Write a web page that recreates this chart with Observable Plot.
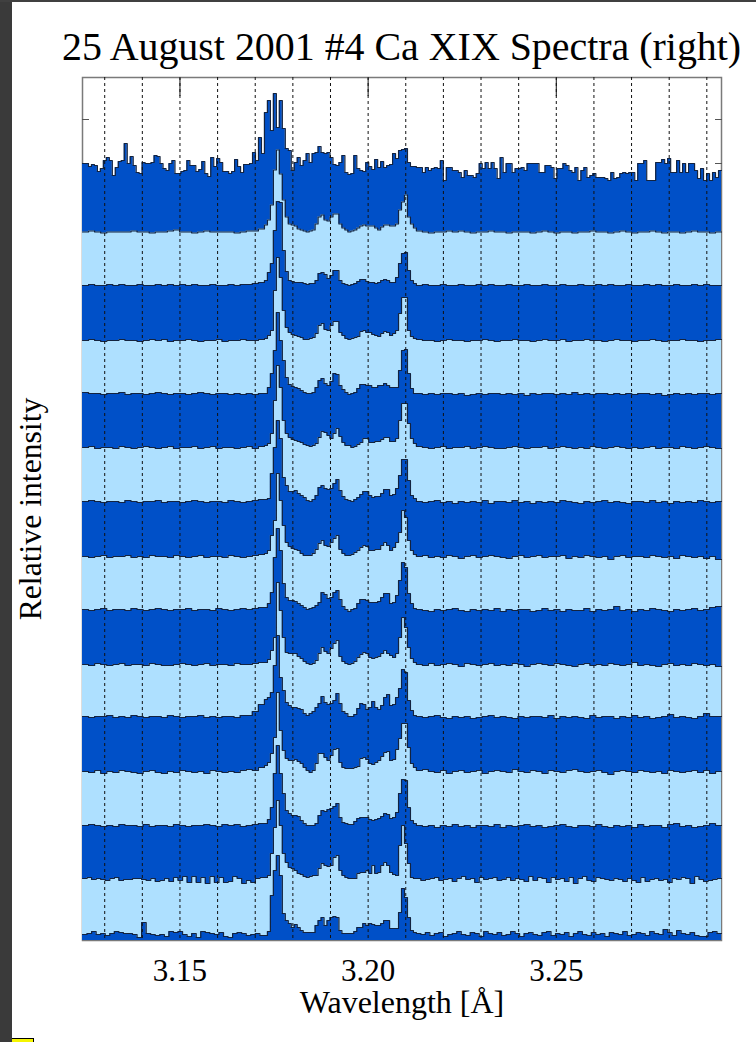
<!DOCTYPE html>
<html>
<head>
<meta charset="utf-8">
<script src="https://cdn.jsdelivr.net/npm/d3@7"></script>
<script src="https://cdn.jsdelivr.net/npm/@observablehq/plot@0.6"></script>
<style>
  html, body { margin: 0; padding: 0; background: #fff; width: 756px; height: 1042px; overflow: hidden; }
  #title { height: 70px; font: 39.9px "Liberation Serif", serif; color: #000; position: relative; }
  #title span { position: absolute; left: 62px; top: 25px; line-height: 44px; white-space: nowrap; }
  #strip { position: absolute; left: 0; top: 0; width: 12px; height: 1042px; background: #3a3a3a; }
  #bar { position: absolute; left: 0; top: 0; width: 756px; height: 2px; background: #404040; }
  #mark { position: absolute; left: 12px; top: 1038px; width: 22px; height: 4px; background: #f5f500; border-top: 1px solid #000; border-right: 1px solid #000; box-sizing: border-box; }
  svg { display: block; }
</style>
</head>
<body>
<div id="title"><span>25 August 2001 #4 Ca XIX Spectra (right)</span></div>
<div id="chart"></div>
<div id="strip"></div><div id="bar"></div><div id="mark"></div>
<script>
const xLabel = "Wavelength [Å]";
const yLabel = "Relative intensity";
const labelledTicks = [3.15, 3.20, 3.25];
const gridWave = [3.13,3.14,3.15,3.16,3.17,3.18,3.19,3.20,3.21,3.22,3.23,3.24,3.25,3.26,3.27,3.28,3.29];
const yTicks = [821, 777];
const waveEdges = [3.1241, 3.17245, 3.21283, 3.2939];
// continuum level of each spectrum, bottom to top
const levels = [6, 61, 114, 169, 223, 276, 330, 384, 438, 493, 546, 600, 655, 708.5, 770];
const colors = ["#0050c8", "#aee0ff"];

// each spectrum: [left wing, lines region, right wing], intensity above its continuum
const s01 = [
 [0,1,3,0,1,-1,1,3,2,1,1,0,-3,12,1,0,-1,0,-2,3,2,3,0,-2,1,-3,3,2,1,0,2,-2,-3,1,2,1,-1,0,1,-1],
 [-1,3,39,64,79,59,21,14,11,7,10,7,4,2,2,2,2,9,14,17,9,14,17,18,17,4,1,1,1,1,3,7,7,11,9,11,10,9,9,11,14,14,6,6,6,22,46,37,17,4,2],
 [1,0,2,-1,1,2,-2,0,1,3,0,-1,2,1,-2,3,1,0,2,-1,0,3,1,-2,1,2,0,-1,2,3,-1,1,0,2,-2,1,3,0,-1,2,0,1,-2,2,1,0,3,-1,0,2,1,-1,3,1,0,5,2,-1,4,1,0,2,-1,-2,-2,2,3,1]];
const s02 = [
 [1,2,0,1,0,-1,1,2,-1,0,0,1,1,0,-1,1,-2,-1,1,-2,2,-1,3,-3,3,-3,2,-4,3,-3,2,-3,-2,3,1,-4,-1,-3,1,2],
 [2,4,26,52,79,54,26,17,12,11,9,6,5,3,2,3,4,4,11,16,14,13,14,22,24,9,4,2,1,1,1,6,7,7,9,6,14,6,7,14,17,14,7,5,4,34,54,36,16,2,1],
 [1,-1,0,1,2,-1,0,1,-2,1,3,0,1,-3,2,0,1,2,-1,0,2,-1,1,0,-2,3,-1,2,1,-3,2,0,1,-2,2,-4,1,3,-1,-2,2,1,0,-1,1,0,-2,1,-1,-3,2,-2,0,1,-1,0,-3,1,0,2,1,-4,3,0,-2,-1,0,1]];
const s03 = [
 [1,2,1,0,1,0,2,1,1,0,2,0,1,1,0,2,1,0,1,1,2,1,0,2,1,2,0,1,2,3],
 [3,7,19,53,81,53,33,16,13,11,11,10,6,3,1,1,1,3,11,16,15,17,18,20,23,9,4,3,2,2,5,8,9,9,9,7,6,7,8,10,13,12,8,9,14,33,47,46,19,6,3],
 [1,0,1,-1,1,0,2,0,1,-1,1,1,0,2,-1,1,0,1,2,0,1,-1,0,1,2,0,-1,1,1,0,2,0,-1,1,0,1,-1,2,0,1,1,-1,2,3,0,1,-1,0,1,3,1]];
const s04 = [
 [0,-1,1,-2,0,-1,1,0,-1,-2,0,1,-1,-2,0,-1,1,0,-1,0,-2,1,0,-1,0,-1,1,2,1,4],
 [6,9,18,34,79,41,21,13,11,11,12,10,8,4,1,-1,1,8,18,18,14,11,16,22,23,9,4,3,3,3,4,5,13,14,12,8,7,9,11,15,19,20,11,12,22,33,48,48,24,8,4],
 [1,2,0,-1,1,-2,0,1,-1,0,1,-2,0,1,0,-1,2,0,-1,1,0,-2,1,0,-1,1,2,0,-1,0,1,-1,-3,0,1,0,-1,1,0,-1,0,-2,1,0,-1,0,1,-1,1,-2,0]];
const s05 = [
 [1,0,1,1,2,0,1,0,2,1,0,1,1,0,2,1,0,1,1,2,0,1,0,1,1,0,2,2,6,13],
 [18,20,25,52,82,40,27,15,12,10,10,9,8,4,2,4,6,10,14,21,15,13,14,17,24,14,6,4,1,1,3,9,14,13,8,10,16,10,8,12,20,23,12,13,20,29,48,45,17,7,2],
 [1,0,1,2,0,-1,1,0,1,-1,0,1,2,0,1,0,-1,1,0,1,1,0,2,-1,1,0,1,0,-1,2,0,1,1,-1,1,0,2,0,1,-1,0,1,3,0,1,0,-1,1,4,1,1]];
const s06 = [
 [0,-1,1,0,-1,0,1,-1,0,0,-1,1,0,-1,-1,0,1,0,-1,0,1,-1,0,0,-1,1,0,0,1,2],
 [2,5,14,27,82,54,27,12,11,11,11,8,6,3,1,0,1,4,11,17,13,11,16,21,24,8,3,1,0,1,3,7,10,12,11,7,6,7,8,11,14,11,9,7,11,27,47,37,17,6,2],
 [0,-1,1,-1,0,1,0,-2,1,0,-1,0,1,-1,0,-1,1,0,-2,0,1,0,-1,1,0,-1,-2,0,1,-1,0,-1,1,0,-1,0,2,-1,0,-1,-2,0,1,-1,0,-1,1,0,-1,0,-2]];
const s07 = [
 [1,0,1,2,0,1,1,0,2,1,0,1,2,1,0,1,1,2,0,1,1,0,2,1,0,1,2,1,2,3],
 [3,7,18,53,82,60,27,13,10,10,9,7,5,3,1,2,3,5,8,18,16,12,13,18,20,11,4,1,-1,1,2,7,11,11,10,8,8,8,9,13,17,17,7,8,15,30,48,43,17,7,2],
 [1,0,-1,1,0,1,2,0,-1,1,0,1,0,2,-1,1,0,1,1,-1,0,2,0,1,-1,1,0,0,2,-1,1,0,1,4,0,1,-1,1,0,2,1,0,-1,1,0,1,2,0,1,3,4]];
const s08 = [
 [0,-1,0,1,-1,0,0,1,-1,0,-1,1,0,0,-1,1,0,-1,0,1,-1,0,0,-1,1,0,-1,0,1,2],
 [3,6,21,36,83,56,31,14,10,8,7,6,3,1,1,1,3,7,13,16,11,10,14,18,21,7,3,1,1,2,4,6,9,11,10,6,6,7,7,11,14,11,6,9,14,24,46,39,16,6,2],
 [0,1,-1,0,-1,1,0,-2,0,1,-1,0,1,0,-1,-2,0,1,-1,0,1,-1,0,0,1,-2,0,-1,1,0,-1,0,-3,0,1,-1,0,0,-1,1,0,-1,0,-2,1,0,-1,0,-2,0,-3]];
const s09 = [
 [1,2,1,0,1,1,0,2,1,0,1,1,2,0,1,1,0,1,2,1,0,1,1,0,2,1,0,1,2,3],
 [3,4,29,55,82,64,25,17,11,11,12,9,7,5,2,1,3,7,15,17,14,13,14,19,23,12,6,3,2,1,3,5,8,11,11,7,5,6,6,9,13,13,7,8,14,27,43,43,22,7,4],
 [1,0,1,2,0,1,-1,1,0,1,0,2,-1,1,1,0,2,0,1,-1,1,0,1,0,2,1,0,-1,1,0,1,2,0,1,0,-1,1,1,0,2,0,1,-1,1,0,1,0,2,1,0,1]];
const s10 = [
 [0,1,-1,0,0,-1,1,0,-1,0,1,0,-1,0,1,-1,0,0,1,-1,0,1,-1,0,0,-1,0,1,-1,1],
 [2,4,14,47,82,60,27,14,10,8,7,6,5,3,2,1,2,4,10,16,15,12,9,14,19,11,5,2,2,0,1,3,5,9,9,5,5,6,6,8,10,10,6,6,9,27,44,44,24,9,4],
 [1,0,-1,0,1,-1,0,0,1,-1,0,1,0,-1,-1,0,1,0,-1,0,0,1,-1,0,1,0,-1,0,-1,1,0,-1,0,1,0,-1,0,-1,0,1,-1,0,0,-1,1,0,-1,0,1,0,-1]];
const s11 = [
 [2,1,1,0,1,1,2,0,1,1,0,1,2,1,0,1,1,0,1,2,1,0,1,1,0,1,0,1,0,1],
 [1,7,21,44,82,54,34,17,10,8,7,6,4,2,1,1,2,7,14,16,11,9,13,21,20,9,5,2,0,1,2,6,10,10,9,9,7,7,9,9,11,9,7,7,7,24,44,45,21,6,1],
 [1,0,1,0,1,1,0,1,-1,0,1,0,1,1,0,1,0,1,-1,1,0,1,1,0,1,0,2,0,1,0,1,1,0,1,0,1,0,1,1,0,1,-1,0,1,0,1,0,1,1,0,1]];
const s12 = [
 [0,1,0,-1,0,0,1,0,0,-1,0,1,0,1,-1,0,0,1,0,-1,0,0,1,-1,0,0,1,0,0,1],
 [2,5,10,50,83,63,30,13,8,6,5,4,3,1,1,2,3,7,15,17,11,10,15,19,19,8,5,2,1,2,3,4,9,10,8,8,6,5,4,7,9,8,5,7,10,27,43,43,10,4,2],
 [1,0,0,-1,0,1,0,0,-1,0,0,1,0,-1,0,0,1,0,0,-1,0,1,0,0,1,-1,0,0,1,0,0,-1,0,1,0,0,-1,0,0,1,0,-1,0,0,1,0,0,-1,0,0,1]];
const s13 = [
 [0,1,0,0,1,0,1,0,0,1,0,0,1,0,1,0,1,0,1,0,0,1,0,0,1,0,1,1,2,3],
 [5,13,22,55,84,83,35,14,5,4,3,3,3,2,1,2,2,5,12,13,11,7,10,15,15,5,2,1,0,1,2,4,6,6,4,3,3,2,3,5,6,5,3,3,8,22,32,33,15,5,2],
 [0,1,0,0,1,0,0,1,0,0,1,0,1,0,0,1,0,0,1,0,0,1,0,0,1,0,0,1,0,0,1,0,1,0,0,1,0,0,1,0,1,0,0,1,0,0,1,0,1,0,0]];
const s14 = [
 [0,1,0,-1,0,0,0,0,1,0,0,-1,0,0,1,2,0,0,-1,0,1,0,0,0,0,-1,0,1,1,3],
 [7,12,27,62,82,58,32,15,8,7,6,3,2,1,0,1,2,8,15,17,12,11,15,18,18,8,4,2,0,1,2,4,6,7,6,6,6,4,2,5,7,7,6,6,8,22,30,37,15,8,4],
 [1,0,-1,0,0,1,0,1,0,-1,0,0,1,0,0,-1,0,0,0,-1,0,1,0,-1,0,0,-1,0,0,1,0,0,-1,0,1,0,-1,0,0,1,0,-1,0,0,-1,0,1,0,0,-1,0]];
const s15 = [
 [7,7,4,6,5,-1,2,10,13,10,-5,3,9,10,27,7,14,5,-2,-3,8,7,7,8,15,14,7,2,0,7,10,-3,-3,-1,0,10,5,5,-1,1,9,-3,-6,13,4,12,8,-1,-1,-3,-1,11,4,-2,6,6,7,18,10,33,17],
 [58,70,40,77,43,70,42,22,20,0,8,13,5,10,17,8,17,18,24,18,17,18,13,6,5,8,15,-2,-4,-3,15,2,0,-1,8,4,1,11,3,9,3,5,6,17,12,20,21,22,8,4,4],
 [3,3,-2,3,0,2,3,2,10,-10,3,3,0,0,-2,-7,0,-5,-5,-7,-3,7,2,8,2,8,2,-8,13,-2,7,7,-2,2,2,3,0,7,7,7,7,-2,-2,5,5,3,-8,2,2,7,5,0,-2,3,-10,0,3,-7,-5,-3,-7,-7,-7,-8,-10,-2,-8,-7,-3,-2,-3,-2,-2,-10,7,7,10,-10,-10,-10,8,8,11,7,12,-2,-2,10,-2,7,-2,7,7,0,-8,2,-10,-3,-10,-2,-7,0]];
const spectra = [s01,s02,s03,s04,s05,s06,s07,s08,s09,s10,s11,s12,s13,s14,s15];

// one row per histogram bin, binned evenly within each wavelength region
const rows = spectra.map((regions, k) => {
  const out = [];
  regions.forEach((vals, r) => {
    const a = waveEdges[r], b = waveEdges[r + 1];
    vals.forEach((v, i) => out.push({wave: a + (b - a) * i / vals.length, y: levels[k] + v}));
  });
  out.push({wave: waveEdges[3], y: out[out.length - 1].y});
  return out;
});

const marks = [
  Plot.frame({stroke: "#7a7a7a", strokeWidth: 1.5}),
  Plot.axisY(yTicks, {anchor: "left", tickSize: -7, tickFormat: () => "", label: null, stroke: "#555"}),
  Plot.axisY(yTicks, {anchor: "right", tickSize: -7, tickFormat: () => "", label: null, stroke: "#555"})
];
for (let k = rows.length - 1; k >= 0; k--) {
  marks.push(Plot.areaY(rows[k], {x: "wave", y1: 0, y2: "y", curve: "step-after", fill: colors[k % 2]}));
  marks.push(Plot.lineY(rows[k], {x: "wave", y: "y", curve: "step-after", stroke: "#13233f", strokeWidth: 1.2}));
}
marks.push(
  Plot.ruleX(gridWave, {stroke: "#111", strokeWidth: 1, strokeDasharray: "3,3"}),
  Plot.axisX(labelledTicks, {anchor: "top", tickSize: -18, tickFormat: () => "", label: null, stroke: "#111"}),
  Plot.axisX(labelledTicks, {anchor: "bottom", tickSize: 0, tickPadding: 18, tickFormat: d3.format(".2f"), label: null, fontSize: 31}),
  Plot.axisX([], {anchor: "bottom", tickSize: 0, label: xLabel, labelAnchor: "center", labelOffset: 72, labelArrow: "none", fontSize: 32}),
  Plot.axisY([], {anchor: "left", tickSize: 0, label: yLabel, labelAnchor: "center", labelOffset: 64, labelArrow: "none", fontSize: 31.7})
);

const chart = Plot.plot({
  width: 756,
  height: 972,
  marginTop: 7,
  marginBottom: 102,
  marginLeft: 82,
  marginRight: 35,
  x: {domain: [waveEdges[0], waveEdges[3]]},
  y: {domain: [0, 863]},
  style: {fontFamily: '"Liberation Serif", serif', fontSize: "31px", color: "#000", background: "#fff"},
  marks
});
document.getElementById("chart").appendChild(chart);
</script>
</body>
</html>
